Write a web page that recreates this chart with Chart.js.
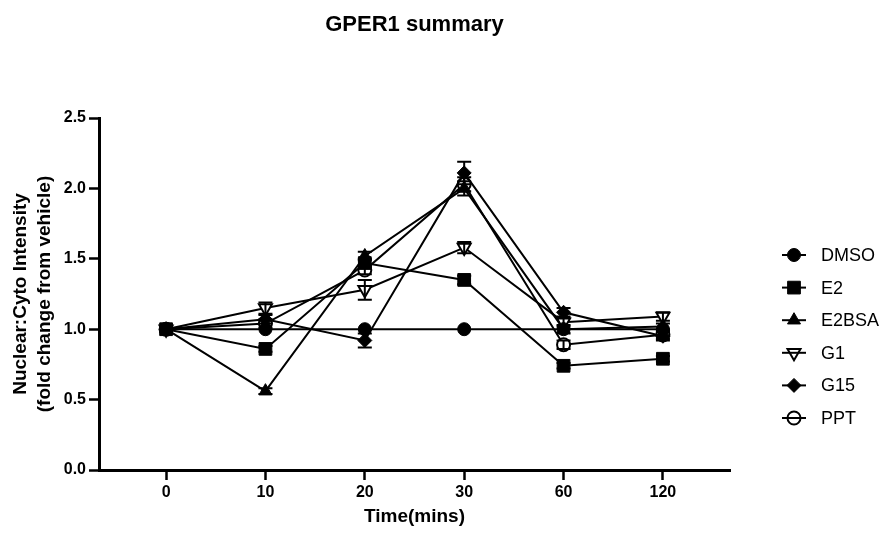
<!DOCTYPE html>
<html>
<head>
<meta charset="utf-8">
<title>GPER1 summary</title>
<script src="https://cdn.jsdelivr.net/npm/chart.js@4.4.1/dist/chart.umd.min.js"></script>
<style>
    html, body { margin: 0; padding: 0; background: #fff; }
    #wrap { width: 884px; height: 533px; }
</style>
</head>
<body>
<div id="wrap"><canvas id="chartGper1" width="884" height="533"></canvas></div>
<script>
(function () {
    "use strict";

    // Time points (mins) - plotted evenly spaced, one slot each
    const timeLabels = ["0", "10", "20", "30", "60", "120"];
    const yTicks = [0, 0.5, 1.0, 1.5, 2.0, 2.5];

    // Mean nuclear:cyto intensity, fold change from vehicle
    const dmso  = [1.00, 1.00, 1.00, 1.00, 1.00, 1.00];
    const e2    = [1.00, 0.86, 1.47, 1.35, 0.74, 0.79];
    const e2bsa = [1.00, 0.56, 1.52, 2.00, 1.00, 1.02];
    const g1    = [1.00, 1.15, 1.28, 1.58, 1.05, 1.09];
    const g15   = [1.00, 1.07, 0.92, 2.11, 1.12, 0.95];
    const ppt   = [1.00, 1.04, 1.42, 2.03, 0.89, 0.96];

    // SEM
    const dmsoErr  = [0, 0, 0, 0, 0, 0];
    const e2Err    = [0, 0.02, 0.03, 0.03, 0.02, 0.02];
    const e2bsaErr = [0, 0.02, 0.03, 0.05, 0.03, 0.02];
    const g1Err    = [0, 0.04, 0.07, 0.04, 0.03, 0.03];
    const g15Err   = [0, 0.03, 0.05, 0.08, 0.03, 0.03];
    const pptErr   = [0, 0.03, 0.03, 0.05, 0.03, 0.03];

    const FONT = "'Liberation Sans', Arial, Helvetica, sans-serif";
    Chart.defaults.font.family = FONT;
    Chart.defaults.color = "#000";

    const toPoints = (arr) => arr.map((v, i) => ({ x: i, y: v }));

    function series(label, values, errors, style, radius, fill, rotation) {
        return {
            label,
            data: toPoints(values),
            errors,
            borderColor: "#000",
            borderWidth: 2,
            tension: 0,
            fill: false,
            pointStyle: style,
            pointRadius: radius,
            pointHoverRadius: radius,
            pointRotation: rotation || 0,
            pointBackgroundColor: fill,
            pointBorderColor: "#000",
            pointBorderWidth: fill === "#fff" ? 2 : 1,
            clip: false,
        };
    }

    // simple fallback in case helpers aren't exposed
    function drawMarker(ctx, opts, x, y) {
        if (Chart.helpers && Chart.helpers.drawPoint) {
            Chart.helpers.drawPoint(ctx, opts, x, y);
            return;
        }
        ctx.beginPath();
        ctx.arc(x, y, opts.radius, 0, Math.PI * 2);
        ctx.fill();
        ctx.stroke();
    }

    // vertical SEM bars with caps
    const errorBars = {
        id: "errorBars",
        afterDatasetsDraw(chart) {
            const { ctx, scales } = chart;
            const cap = 7;
            ctx.save();
            ctx.strokeStyle = "#000";
            ctx.lineWidth = 2;
            chart.data.datasets.forEach((ds) => {
                if (!ds.errors) return;
                ds.data.forEach((p, i) => {
                    const e = ds.errors[i];
                    if (!e) return;
                    const px = scales.x.getPixelForValue(p.x);
                    const top = scales.y.getPixelForValue(p.y + e);
                    const bot = scales.y.getPixelForValue(p.y - e);
                    ctx.beginPath();
                    ctx.moveTo(px, top);
                    ctx.lineTo(px, bot);
                    ctx.moveTo(px - cap, top);
                    ctx.lineTo(px + cap, top);
                    ctx.moveTo(px - cap, bot);
                    ctx.lineTo(px + cap, bot);
                    ctx.stroke();
                });
            });
            ctx.restore();
        },
    };

    // title over the plot + legend on the right (line through marker)
    const decorations = {
        id: "decorations",
        afterDraw(chart) {
            const { ctx, chartArea } = chart;
            ctx.save();
            ctx.fillStyle = "#000";
            ctx.font = "bold 22px " + FONT;
            ctx.textAlign = "center";
            ctx.textBaseline = "middle";
            ctx.fillText("GPER1 summary", (chartArea.left + chartArea.right) / 2, 25);

            const lx = chartArea.right + 64;
            const ly = 255;
            const step = 32.6;
            chart.data.datasets.forEach((ds, i) => {
                const y = ly + i * step;
                ctx.fillStyle = ds.pointBackgroundColor;
                ctx.strokeStyle = "#000";
                ctx.lineWidth = ds.pointBorderWidth;
                drawMarker(ctx, {
                    pointStyle: ds.pointStyle,
                    rotation: ds.pointRotation,
                    radius: ds.pointRadius,
                    borderWidth: ds.pointBorderWidth,
                }, lx, y);

                ctx.beginPath();
                ctx.lineWidth = 2;
                ctx.moveTo(lx - 12, y);
                ctx.lineTo(lx + 12, y);
                ctx.stroke();

                ctx.fillStyle = "#000";
                ctx.font = "18px " + FONT;
                ctx.textAlign = "left";
                ctx.fillText(ds.label, lx + 27, y + 1);
            });
            ctx.restore();
        },
    };

    const axisBorder = { display: true, color: "#000", width: 3 };
    const axisGrid = {
        display: true,
        drawOnChartArea: false,
        drawTicks: true,
        tickLength: 10,
        tickWidth: 2.5,
        tickColor: "#000",
    };

    new Chart(document.getElementById("chartGper1"), {
        type: "line",
        data: {
            datasets: [
                series("DMSO", dmso, dmsoErr, "circle", 6.5, "#000"),
                series("E2", e2, e2Err, "rect", 9, "#000"),
                series("E2BSA", e2bsa, e2bsaErr, "triangle", 7.5, "#000"),
                series("G1", g1, g1Err, "triangle", 7.5, "#fff", 180),
                series("G15", g15, g15Err, "rectRot", 7, "#000"),
                series("PPT", ppt, pptErr, "circle", 6.5, "#fff"),
            ],
        },
        options: {
            responsive: false,
            animation: false,
            layout: { padding: { left: 0, right: 154, top: 118, bottom: 0 } },
            plugins: {
                legend: { display: false },
                title: { display: false },
                tooltip: { enabled: false },
            },
            scales: {
                x: {
                    type: "linear",
                    min: -0.675,
                    max: 5.675,
                    border: axisBorder,
                    grid: axisGrid,
                    afterBuildTicks: (scale) => {
                        scale.ticks = timeLabels.map((_, i) => ({ value: i }));
                    },
                    afterFit: (scale) => { scale.height = 63; },
                    ticks: {
                        padding: 3,
                        font: { size: 16, weight: "bold" },
                        callback: (v) => timeLabels[v],
                    },
                    title: {
                        display: true,
                        text: "Time(mins)",
                        font: { size: 19, weight: "bold" },
                        padding: { top: 4, bottom: 5 },
                    },
                },
                y: {
                    min: 0,
                    max: 2.5,
                    border: axisBorder,
                    grid: axisGrid,
                    afterBuildTicks: (scale) => {
                        scale.ticks = yTicks.map((v) => ({ value: v }));
                    },
                    afterFit: (scale) => { scale.width = 99; },
                    ticks: {
                        padding: 3,
                        font: { size: 16, weight: "bold" },
                        callback: (v) => Number(v).toFixed(1),
                    },
                    title: {
                        display: true,
                        text: ["Nuclear:Cyto Intensity", "(fold change from vehicle)"],
                        font: { size: 19, weight: "bold", lineHeight: 1.26 },
                        padding: { top: 9, bottom: 0 },
                    },
                },
            },
        },
        plugins: [errorBars, decorations],
    });
})();
</script>
</body>
</html>
